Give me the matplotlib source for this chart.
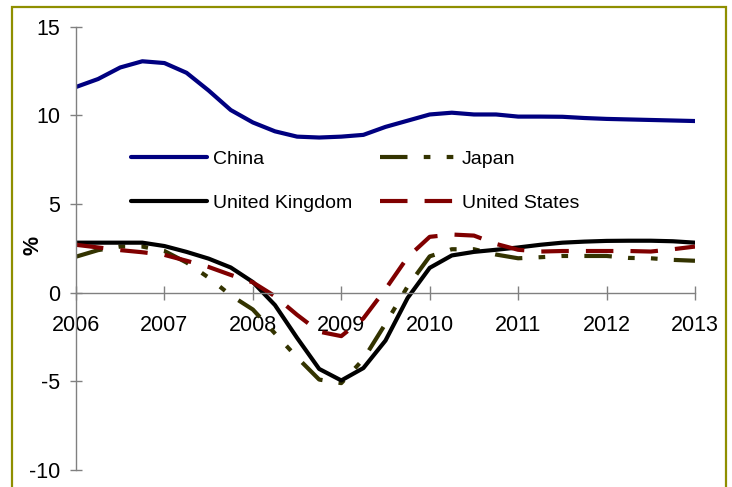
import matplotlib
matplotlib.use("Agg")
import matplotlib.pyplot as plt
from matplotlib.patches import Rectangle

plt.rcParams["font.family"] = ["Liberation Sans", "DejaVu Sans"]
plt.rcParams["axes.unicode_minus"] = False

# quarterly growth rates, 2006Q1 .. 2013Q1
years = [2006 + 0.25 * i for i in range(29)]
china = [11.6, 12.05, 12.7, 13.05, 12.95, 12.4, 11.4, 10.3, 9.6, 9.1,
         8.8, 8.75, 8.8, 8.9, 9.35, 9.7, 10.05, 10.15, 10.05, 10.05,
         9.93, 9.93, 9.92, 9.85, 9.8, 9.77, 9.74, 9.71, 9.68]
japan = [2.03, 2.4, 2.6, 2.6, 2.35, 1.7, 0.85, -0.15, -0.95, -2.3,
         -3.65, -4.9, -5.1, -3.75, -1.75, 0.35, 2.05, 2.45, 2.45, 2.15,
         1.94, 2.0, 2.07, 2.07, 2.07, 1.96, 1.94, 1.85, 1.8]
uk = [2.82, 2.82, 2.82, 2.82, 2.63, 2.3, 1.92, 1.42, 0.6, -0.7,
      -2.55, -4.3, -4.95, -4.25, -2.7, -0.3, 1.4, 2.1, 2.3, 2.42,
      2.55, 2.7, 2.82, 2.88, 2.92, 2.93, 2.93, 2.9, 2.82]
us = [2.7, 2.55, 2.4, 2.28, 2.13, 1.8, 1.45, 1.0, 0.58, -0.2,
      -1.25, -2.2, -2.45, -1.45, 0.2, 2.0, 3.15, 3.28, 3.22, 2.75,
      2.42, 2.32, 2.35, 2.35, 2.35, 2.35, 2.32, 2.45, 2.6]

year_ticks = list(range(2006, 2014))
y_ticks = [-10, -5, 0, 5, 10, 15]

W, H = 732, 487
fig = plt.figure(figsize=(W / 100, H / 100), dpi=100)
ax = fig.add_axes([76 / W, 1 - 470 / H, (695 - 76) / W, (470 - 26.7) / H])

lw = 3.0
l_china, = ax.plot(years, china, color="#000080", lw=lw, label="China",
                   solid_capstyle="round", solid_joinstyle="round")
l_japan, = ax.plot(years, japan, color="#333300", lw=lw, label="Japan",
                   dashes=(6.6, 3.9, 1.6, 3.9, 1.6, 3.9), dash_capstyle="butt")
l_uk, = ax.plot(years, uk, color="black", lw=lw, label="United Kingdom",
                solid_capstyle="round", solid_joinstyle="round")
l_us, = ax.plot(years, us, color="#800000", lw=lw, label="United States",
                dashes=(6.6, 4.1), dash_capstyle="butt")

ax.set_xlim(2006, 2013)
ax.set_ylim(-10, 15)
ax.set_xticks(year_ticks)
ax.set_yticks(y_ticks)

for side in ["top", "right"]:
    ax.spines[side].set_visible(False)
ax.spines["bottom"].set_position(("data", 0))
for side in ["left", "bottom"]:
    ax.spines[side].set_color("#808080")
    ax.spines[side].set_linewidth(1.0)

ax.tick_params(axis="y", direction="inout", length=8.6, width=1.0,
               color="#808080", labelsize=15.5, pad=7)
ax.tick_params(axis="x", direction="inout", length=10, width=1.0,
               color="#808080", labelsize=15.5, pad=11)

fig.text(33 / W, 1 - 245 / H, "%", rotation=90, ha="center", va="center",
         fontsize=15.5, fontweight="bold")

# legend fills column by column: China/UK left, Japan/US right
ax.legend([l_china, l_uk, l_japan, l_us],
          ["China", "United Kingdom", "Japan", "United States"],
          ncol=2, loc="upper left", frameon=False, fontsize=14,
          bbox_to_anchor=(131 / W, 1 - 150 / H), bbox_transform=fig.transFigure,
          borderpad=0, borderaxespad=0, handlelength=3.9, handletextpad=0.3,
          columnspacing=1.45, labelspacing=1.36)

# olive frame around the chart
fig.patches.append(Rectangle((12 / W, -0.05), (726 - 12) / W, 1.05 - 7 / H,
                             transform=fig.transFigure, fill=False,
                             edgecolor="#8f8f00", linewidth=1.6, clip_on=False))

fig.savefig("out.png", dpi=100)
